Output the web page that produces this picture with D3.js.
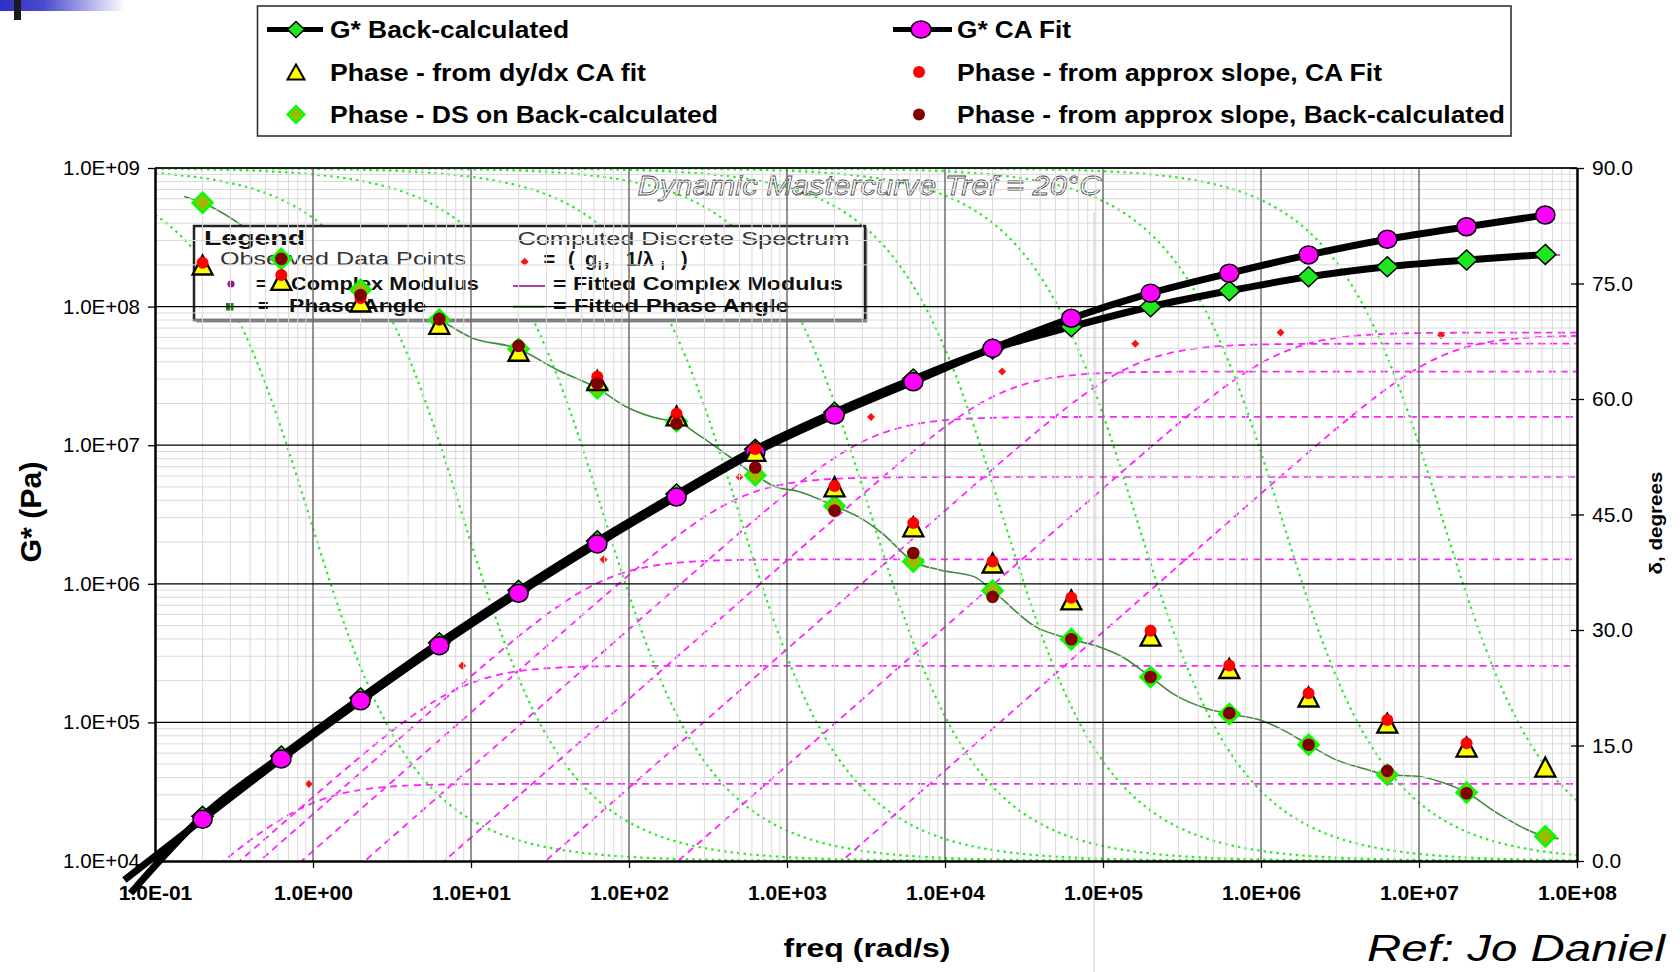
<!DOCTYPE html>
<html>
<head>
<meta charset="utf-8">
<script src="https://cdn.jsdelivr.net/npm/d3@7"></script>
<style>
  html, body { margin: 0; padding: 0; background: #fff; }
  svg { display: block; }
</style>
</head>
<body>
<svg id="chart" width="1680" height="972"></svg>
<script>
// ---------- data ----------
// test frequencies (rad/s)
const freq = [0.2, 0.63, 2, 6.3, 20, 63, 200, 630, 2000, 6300, 2e4, 6.3e4, 2e5, 6.3e5, 2e6, 6.3e6, 2e7, 6.3e7];
// |G*| (Pa)
const gCaFit    = [2.0e4, 5.45e4, 1.43e5, 3.58e5, 8.54e5, 1.94e6, 4.23e6, 8.9e6, 1.65e7, 2.87e7, 5.0e7, 8.24e7, 1.25e8, 1.74e8, 2.36e8, 3.06e8, 3.77e8, 4.58e8];
const gBackCalc = [2.1e4, 5.72e4, 1.5e5, 3.76e5, 8.97e5, 2.04e6, 4.44e6, 9.35e6, 1.73e7, 3.0e7, 4.95e7, 7.16e7, 9.98e7, 1.30e8, 1.64e8, 1.94e8, 2.17e8, 2.38e8];
// low-frequency ends of the two modulus curves: [CA fit, back-calculated]
const tailFreq = [0.064, 0.07];
const tailG = [7.3e3, 5.85e3];
// phase angle (degrees)
const phaseDyDx     = [77.4, 75.4, 72.6, 69.7, 66.2, 62.4, 57.8, 53.2, 48.6, 43.4, 38.7, 33.9, 29.2, 25.0, 21.3, 17.9, 14.8, 12.2];
const phaseSlopeCA  = [77.7, 76.1, 73.1, 70.3, 66.9, 62.9, 58.1, 53.5, 48.7, 43.9, 38.9, 34.2, 29.9, 25.4, 21.8, 18.3, 15.3, null];
const phaseSlopeBC  = [null, 78.2, 73.5, 70.4, 66.9, 62.0, 56.8, 51.1, 45.5, 40.0, 34.3, 28.8, 23.9, 19.2, 15.1, 11.7, 8.8, null];
const phaseDS       = [85.5, 78.2, 74.2, 70.3, 66.5, 61.4, 57.1, 50.1, 46.1, 38.9, 35.1, 28.8, 23.9, 19.1, 15.1, 11.2, 8.9, 3.2];
// discrete relaxation spectrum (g_i, 1/lambda_i)
const specInvLambda = [0.94, 8.8, 69, 500, 3400, 2.3e4, 1.6e5, 1.33e6, 1.38e7];
const specG         = [3.6e4, 2.56e5, 1.5e6, 5.9e6, 1.6e7, 3.4e7, 5.4e7, 6.5e7, 6.2e7];
// fitted phase angle curve
const fitPhaseFreq = [0.153, 0.2, 0.345, 0.63, 2, 6.3, 10, 20, 35, 63, 96, 159, 200, 277, 433, 630, 845, 1183, 2000, 3053, 4034, 6300, 9290, 15380, 2e4, 37560, 6.3e4, 95060, 1.33e5, 2e5, 2.73e5, 4.53e5, 6.3e5, 9.86e5, 1.38e6, 2e6, 3.02e6, 4.46e6, 6.3e6, 9.71e6, 1.36e7, 2e7, 3.14e7, 6.3e7, 7.66e7];
const fitPhaseDeg  = [86.3, 85.5, 82.7, 78.2, 74.2, 70.3, 68.0, 66.5, 63.8, 61.4, 59.0, 57.4, 57.1, 55.3, 52.5, 50.1, 48.6, 48.0, 46.1, 44.3, 42.5, 38.9, 37.8, 36.9, 35.1, 30.4, 28.8, 27.8, 26.5, 23.9, 21.8, 19.8, 19.1, 18.3, 17.0, 15.1, 13.1, 12.0, 11.2, 11.0, 10.3, 8.9, 6.2, 3.2, 2.9];
// fitted complex modulus curve end points
const fitModEndFreq = [0.15, 7.8e7];
const fitModEndG = [1.55e4, 2.35e8];
// axis ticks
const xTicks = [1e-1, 1e0, 1e1, 1e2, 1e3, 1e4, 1e5, 1e6, 1e7, 1e8];
const yTicks = [1e4, 1e5, 1e6, 1e7, 1e8, 1e9];
const dTicks = [0, 15, 30, 45, 60, 75, 90];

// ---------- layout ----------
const FONT = "Arial, 'Liberation Sans', Helvetica, sans-serif";
const plot = { left: 155, right: 1577, top: 168, bottom: 861 };
const svg = d3.select("#chart");

const x = d3.scaleLog().domain([0.1, 1e8]).range([plot.left, plot.right]);
const yG = d3.scaleLog().domain([1e4, 1e9]).range([plot.bottom, plot.top]);
const yD = d3.scaleLinear().domain([0, 90]).range([plot.bottom, plot.top]);

const fmtSci = d => {
  const e = Math.round(Math.log10(d));
  return `1.0E${e < 0 ? "-" : "+"}${String(Math.abs(e)).padStart(2, "0")}`;
};
const diamond = (cx, cy, rx, ry) => `M${cx},${cy - ry}L${cx + rx},${cy}L${cx},${cy + ry}L${cx - rx},${cy}Z`;
const triangle = (cx, cy, w, h) => `M${cx},${cy - h / 2}L${cx + w / 2},${cy + h / 2}L${cx - w / 2},${cy + h / 2}Z`;

function text(g, str, px, py, o = {}) {
  const t = g.append("text").attr("x", px).attr("y", py)
    .attr("font-family", FONT)
    .attr("font-size", o.size || 20)
    .attr("font-weight", o.weight || "normal")
    .attr("font-style", o.style || "normal")
    .attr("fill", o.fill || "#000")
    .attr("text-anchor", o.anchor || "start")
    .text(str);
  if (o.len) t.attr("textLength", o.len).attr("lengthAdjust", "spacingAndGlyphs");
  if (o.stroke) t.attr("stroke", o.stroke).attr("stroke-width", o.sw || 1);
  if (o.transform) t.attr("transform", o.transform);
  return t;
}

// ---------- header ornament ----------
const defs = svg.append("defs");
const grad = defs.append("linearGradient").attr("id", "band").attr("x1", 0).attr("x2", 1);
grad.append("stop").attr("offset", 0).attr("stop-color", "#2f2fc4");
grad.append("stop").attr("offset", 0.35).attr("stop-color", "#4a4ad0");
grad.append("stop").attr("offset", 1).attr("stop-color", "#ffffff");
svg.append("rect").attr("x", 0).attr("y", 0).attr("width", 125).attr("height", 11).attr("fill", "url(#band)");
svg.append("rect").attr("x", 14).attr("y", 0).attr("width", 7).attr("height", 20).attr("fill", "#1a1a1a");

// ---------- top legend ----------
const leg = svg.append("g");
leg.append("rect").attr("x", 257.5).attr("y", 6).attr("width", 1253.5).attr("height", 130)
  .attr("fill", "#fff").attr("stroke", "#333").attr("stroke-width", 1.6);
leg.append("line").attr("x1", 267).attr("x2", 323).attr("y1", 29.5).attr("y2", 29.5).attr("stroke", "#000").attr("stroke-width", 5);
leg.append("path").attr("d", diamond(296, 29.5, 8.5, 8)).attr("fill", "#1ee81e").attr("stroke", "#000").attr("stroke-width", 1.5);
leg.append("path").attr("d", triangle(296, 72, 17, 15)).attr("fill", "#ffff00").attr("stroke", "#000").attr("stroke-width", 2);
leg.append("path").attr("d", diamond(296, 114.5, 8.5, 8.5)).attr("fill", "#99bb00").attr("stroke", "#00ff00").attr("stroke-width", 2.2);
leg.append("line").attr("x1", 893).attr("x2", 952).attr("y1", 29.5).attr("y2", 29.5).attr("stroke", "#000").attr("stroke-width", 5);
leg.append("ellipse").attr("cx", 921).attr("cy", 29.5).attr("rx", 10).attr("ry", 8.5).attr("fill", "#ff00ff").attr("stroke", "#000").attr("stroke-width", 1.5);
leg.append("circle").attr("cx", 919).attr("cy", 72).attr("r", 6).attr("fill", "#ff0000");
leg.append("circle").attr("cx", 919).attr("cy", 114.5).attr("r", 6).attr("fill", "#800000");
text(leg, "G* Back-calculated", 330, 38.3, { size: 24, weight: "bold", len: 239 });
text(leg, "Phase - from dy/dx CA fit", 330, 81, { size: 24, weight: "bold", len: 316 });
text(leg, "Phase - DS on Back-calculated", 330, 123, { size: 24, weight: "bold", len: 388 });
text(leg, "G* CA Fit", 957, 38.3, { size: 24, weight: "bold", len: 114 });
text(leg, "Phase - from approx slope, CA Fit", 957, 81, { size: 24, weight: "bold", len: 425 });
text(leg, "Phase - from approx slope, Back-calculated", 957, 123, { size: 24, weight: "bold", len: 548 });

// ---------- plot background: discrete spectrum responses ----------
defs.append("clipPath").attr("id", "plotClip").append("rect")
  .attr("x", plot.left).attr("y", plot.top)
  .attr("width", plot.right - plot.left).attr("height", plot.bottom - plot.top);

const bg = svg.append("g").attr("clip-path", "url(#plotClip)");
// frequency grid on which each Maxwell element of the spectrum is evaluated
const omegaGrid = d3.range(0, 541).map(i => Math.pow(10, -1 + i / 60));
const lineXY = d3.line().x(d => d[0]).y(d => d[1]);

specInvLambda.forEach((fc, i) => {
  // |G*| of element i: g * wl / sqrt(1 + (wl)^2)
  const mod = omegaGrid.map(w => {
    const r = w / fc;
    return [x(w), yG(Math.max(specG[i] * r / Math.sqrt(1 + r * r), 1e3))];
  });
  // phase of element i: atan(1 / wl)
  const ph = omegaGrid.map(w => [x(w), yD(Math.atan(fc / w) * 180 / Math.PI)]);
  bg.append("path").attr("d", lineXY(mod)).attr("fill", "none")
    .attr("stroke", "#ff22ff").attr("stroke-width", 1.8).attr("stroke-dasharray", "7,5");
  bg.append("path").attr("d", lineXY(ph)).attr("fill", "none")
    .attr("stroke", "#2ee82e").attr("stroke-width", 2.2).attr("stroke-dasharray", "2.5,4");
});

// spectrum points
bg.selectAll("path.spec").data(specInvLambda).join("path").attr("class", "spec")
  .attr("d", (d, i) => diamond(x(d), yG(specG[i]), 4, 4)).attr("fill", "#ff1010");

// fitted phase angle and fitted complex modulus (thin lines)
const smooth = d3.line().x(d => d[0]).y(d => d[1]).curve(d3.curveMonotoneX);
bg.append("path")
  .attr("d", smooth(fitPhaseFreq.map((f, i) => [x(f), yD(fitPhaseDeg[i])])))
  .attr("fill", "none").attr("stroke", "#3d8c3d").attr("stroke-width", 1.6);
const fitModFreq = [fitModEndFreq[0], ...freq, fitModEndFreq[1]];
const fitModG = [fitModEndG[0], ...gBackCalc, fitModEndG[1]];
bg.append("path")
  .attr("d", smooth(fitModFreq.map((f, i) => [x(f), yG(fitModG[i])])))
  .attr("fill", "none").attr("stroke", "#c040c0").attr("stroke-width", 1.6);

// chart title (outlined italic)
text(svg, "Dynamic Mastercurve Tref = 20°C", 637.5, 195,
  { size: 28, style: "italic", fill: "#fff", stroke: "#4a4a4a", sw: 0.8, len: 464 });

// ---------- inner legend ----------
const il = svg.append("g");
il.append("rect").attr("x", 196.5).attr("y", 228.5).attr("width", 671).attr("height", 94).attr("fill", "#9a9a9a");
il.append("rect").attr("x", 194).attr("y", 226).attr("width", 671).attr("height", 94)
  .attr("fill", "#fff").attr("stroke", "#222").attr("stroke-width", 2.5);
text(il, "Legend", 204, 245, { size: 20, weight: "bold", len: 101, fill: "#111" });
text(il, "Observed Data Points", 220, 265, { size: 19, len: 246, fill: "#333" });
il.append("circle").attr("cx", 231).attr("cy", 284).attr("r", 3.6).attr("fill", "#8b1a8b");
text(il, "=", 256, 290, { size: 18, weight: "bold", fill: "#111" });
text(il, "Complex Modulus", 291, 290, { size: 18, weight: "bold", len: 188, fill: "#111" });
il.append("rect").attr("x", 226).attr("y", 303).attr("width", 7.5).attr("height", 7.5).attr("fill", "#1e7d1e");
text(il, "=", 258, 311.7, { size: 18, weight: "bold", fill: "#111" });
text(il, "Phase Angle", 289, 311.7, { size: 18, weight: "bold", len: 137, fill: "#111" });
text(il, "Computed Discrete Spectrum", 517.5, 245, { size: 19, len: 332, fill: "#333" });
il.append("path").attr("d", diamond(524.6, 261.7, 4, 4)).attr("fill", "#ff1010");
// "= ( g_i, 1/λ_i )" laid out piece by piece
const spt = il.append("text").attr("y", 266).attr("font-family", FONT)
  .attr("font-size", 20).attr("font-weight", "bold").attr("fill", "#111");
spt.append("tspan").attr("x", 543.5).text("=");
spt.append("tspan").attr("x", 568).text("(");
spt.append("tspan").attr("x", 585).text("g");
spt.append("tspan").attr("x", 598).attr("dy", 4).attr("font-size", 13).text("i");
spt.append("tspan").attr("x", 604).attr("dy", -4).text(",");
spt.append("tspan").attr("x", 626).text("1/λ");
spt.append("tspan").attr("x", 661).attr("dy", 4).attr("font-size", 13).text("i");
spt.append("tspan").attr("x", 681).attr("dy", -4).text(")");
il.append("line").attr("x1", 513).attr("x2", 545).attr("y1", 286).attr("y2", 286).attr("stroke", "#b040b0").attr("stroke-width", 2);
text(il, "= Fitted Complex Modulus", 553, 290, { size: 18, weight: "bold", len: 290, fill: "#111" });
il.append("line").attr("x1", 513).attr("x2", 545).attr("y1", 306.7).attr("y2", 306.7).attr("stroke", "#3d8c3d").attr("stroke-width", 2);
text(il, "= Fitted Phase Angle", 553, 311.7, { size: 18, weight: "bold", len: 236, fill: "#111" });

// ---------- gridlines ----------
const grid = svg.append("g");
const minorX = [], minorY = [];
for (let e = -1; e < 8; e++) for (let m = 2; m < 10; m++) minorX.push(m * Math.pow(10, e));
for (let e = 4; e < 9; e++) for (let m = 2; m < 10; m++) minorY.push(m * Math.pow(10, e));
grid.selectAll("line.mx").data(minorX).join("line").attr("class", "mx")
  .attr("x1", d => x(d)).attr("x2", d => x(d)).attr("y1", plot.top).attr("y2", plot.bottom)
  .attr("stroke", "#dadada").attr("stroke-width", 1);
grid.selectAll("line.my").data(minorY).join("line").attr("class", "my")
  .attr("x1", plot.left).attr("x2", plot.right).attr("y1", d => yG(d)).attr("y2", d => yG(d))
  .attr("stroke", "#dadada").attr("stroke-width", 1);
grid.append("line").attr("x1", 1094).attr("x2", 1094).attr("y1", 212).attr("y2", 972)
  .attr("stroke", "#d6d6d6").attr("stroke-width", 1.2);
grid.selectAll("line.Mx").data(xTicks.slice(1, -1)).join("line").attr("class", "Mx")
  .attr("x1", d => x(d)).attr("x2", d => x(d)).attr("y1", plot.top).attr("y2", plot.bottom)
  .attr("stroke", "#6e6e6e").attr("stroke-width", 1.5);
grid.selectAll("line.My").data(yTicks.slice(1, -1)).join("line").attr("class", "My")
  .attr("x1", plot.left).attr("x2", plot.right).attr("y1", d => yG(d)).attr("y2", d => yG(d))
  .attr("stroke", "#000").attr("stroke-width", 1.2);
grid.append("line").attr("x1", plot.left).attr("x2", plot.right).attr("y1", plot.top).attr("y2", plot.top)
  .attr("stroke", "#222").attr("stroke-width", 2);

// ---------- axes ----------
function styleAxis(g, size, weight) {
  g.attr("font-family", FONT).attr("font-size", size).attr("font-weight", weight);
  g.select(".domain").attr("stroke", "#000").attr("stroke-width", 2.5);
  g.selectAll(".tick line").attr("stroke", "#000").attr("stroke-width", 1.3);
  g.selectAll(".tick text").attr("fill", "#000");
}
const axB = svg.append("g").attr("transform", `translate(0,${plot.bottom})`)
  .call(d3.axisBottom(x).tickValues(xTicks).tickFormat(fmtSci).tickSize(7).tickSizeOuter(0).tickPadding(17));
styleAxis(axB, 21, "bold");
const axL = svg.append("g").attr("transform", `translate(${plot.left},0)`)
  .call(d3.axisLeft(yG).tickValues(yTicks).tickFormat(fmtSci).tickSize(7).tickSizeOuter(0).tickPadding(8));
styleAxis(axL, 20.5, "normal");
const axR = svg.append("g").attr("transform", `translate(${plot.right},0)`)
  .call(d3.axisRight(yD).tickValues(dTicks).tickFormat(d3.format(".1f")).tickSize(7).tickSizeOuter(0).tickPadding(8));
styleAxis(axR, 21, "normal");
axR.selectAll(".tick line").attr("x1", -6);

// axis titles
text(svg, "G* (Pa)", 0, 0, { size: 29, weight: "bold", anchor: "middle", len: 101, transform: "translate(41,512) rotate(-90)" });
text(svg, "δ, degrees", 0, 0, { size: 19, weight: "bold", anchor: "middle", len: 103, transform: "translate(1662,523) rotate(-90)" });
text(svg, "freq (rad/s)", 867, 957, { size: 26, weight: "bold", anchor: "middle", len: 167 });
text(svg, "Ref: Jo Daniel", 1367, 961, { size: 36, style: "italic", len: 298 });

// ---------- data series ----------
const series = svg.append("g");
const thick = d3.line().x(d => d[0]).y(d => d[1]).curve(d3.curveMonotoneX);
const caPts = [[x(tailFreq[0]), yG(tailG[0])], ...freq.map((f, i) => [x(f), yG(gCaFit[i])])];
const bcPts = [[x(tailFreq[1]), yG(tailG[1])], ...freq.map((f, i) => [x(f), yG(gBackCalc[i])])];
series.append("path").attr("d", thick(bcPts)).attr("fill", "none").attr("stroke", "#000")
  .attr("stroke-width", 7).attr("stroke-linejoin", "round");
series.append("path").attr("d", thick(caPts)).attr("fill", "none").attr("stroke", "#000")
  .attr("stroke-width", 7).attr("stroke-linejoin", "round");

// G* back-calculated markers
series.selectAll("path.gbc").data(freq).join("path").attr("class", "gbc")
  .attr("d", (f, i) => diamond(x(f), yG(gBackCalc[i]), 10.7, 10))
  .attr("fill", "#1ee81e").attr("stroke", "#000").attr("stroke-width", 1.5);
// G* CA fit markers
series.selectAll("ellipse.gca").data(freq).join("ellipse").attr("class", "gca")
  .attr("cx", f => x(f)).attr("cy", (f, i) => yG(gCaFit[i])).attr("rx", 9.6).attr("ry", 9)
  .attr("fill", "#ff00ff").attr("stroke", "#000").attr("stroke-width", 1.5);

// phase: DS on back-calculated
series.selectAll("path.pds").data(freq).join("path").attr("class", "pds")
  .attr("d", (f, i) => diamond(x(f), yD(phaseDS[i]), 10, 10))
  .attr("fill", "#99bb00").attr("stroke", "#00ff00").attr("stroke-width", 2.5);
// phase: dy/dx of CA fit
series.selectAll("path.pdy").data(freq).join("path").attr("class", "pdy")
  .attr("d", (f, i) => triangle(x(f), yD(phaseDyDx[i]), 20, 19))
  .attr("fill", "#ffff00").attr("stroke", "#000").attr("stroke-width", 2.3).attr("stroke-linejoin", "miter");
// phase: approx slope, CA fit
series.selectAll("circle.pca").data(freq.filter((f, i) => phaseSlopeCA[i] != null)).join("circle").attr("class", "pca")
  .attr("cx", f => x(f)).attr("cy", f => yD(phaseSlopeCA[freq.indexOf(f)])).attr("r", 6)
  .attr("fill", "#ff0000");
// phase: approx slope, back-calculated
series.selectAll("circle.pbc").data(freq.filter((f, i) => phaseSlopeBC[i] != null)).join("circle").attr("class", "pbc")
  .attr("cx", f => x(f)).attr("cy", f => yD(phaseSlopeBC[freq.indexOf(f)])).attr("r", 6.3)
  .attr("fill", "#800000");
</script>
</body>
</html>
